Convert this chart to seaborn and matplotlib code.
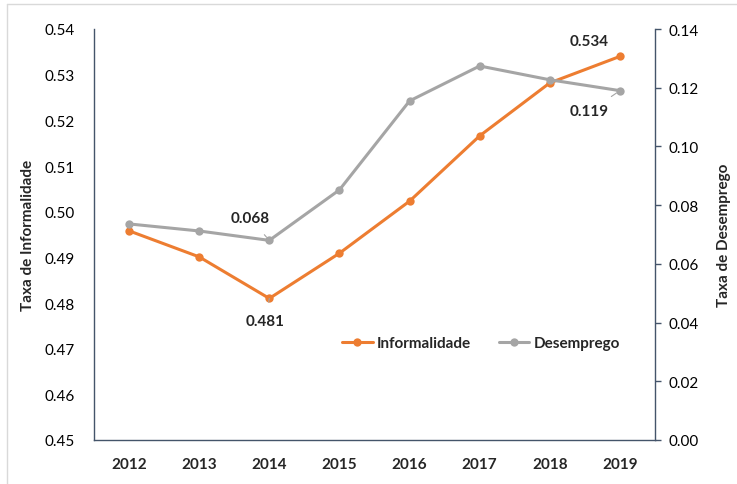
import pandas as pd
import matplotlib
matplotlib.use("Agg")
import matplotlib.pyplot as plt
from matplotlib.lines import Line2D
import seaborn as sns

# Dados
anos = ["2012", "2013", "2014", "2015", "2016", "2017", "2018", "2019"]
informalidade = [0.4958, 0.4901, 0.481, 0.4909, 0.5023, 0.5166, 0.5282, 0.534]
desemprego = [0.0736, 0.0712, 0.068, 0.0852, 0.1155, 0.1274, 0.1227, 0.119]

laranja = "#ED7D31"
cinza = "#A5A5A5"
eixo_cor = "#44546A"

sns.set_style("white")
plt.rcParams["font.family"] = ["Lato", "DejaVu Sans"]

df = pd.DataFrame({"ano": anos, "informalidade": informalidade, "desemprego": desemprego})

fig = plt.figure(figsize=(7.37, 4.85), dpi=100)
ax = fig.add_axes([94 / 737, 1 - 441 / 485, 561 / 737, 411 / 485])
ax2 = ax.twinx()

sns.lineplot(data=df, x="ano", y="informalidade", ax=ax, color=laranja, marker="o",
             markersize=6, markeredgewidth=0, linewidth=2.2, label="Informalidade", legend=False)
sns.lineplot(data=df, x="ano", y="desemprego", ax=ax2, color=cinza, marker="o",
             markersize=6, markeredgewidth=0, linewidth=2.2, label="Desemprego", legend=False)

ax.set_xlim(-0.5, 7.5)
ax.set_ylim(0.45, 0.54)
ax.set_yticks([0.45 + 0.01 * i for i in range(10)])
ax.set_yticklabels([f"{0.45 + 0.01 * i:.2f}" for i in range(10)])
ax2.set_ylim(0, 0.14)
ax2.set_yticks([0.02 * i for i in range(8)])
ax2.set_yticklabels([f"{0.02 * i:.2f}" for i in range(8)])

for a in (ax, ax2):
    for s in a.spines.values():
        s.set_visible(False)
    a.grid(False)
ax.spines["left"].set_visible(True)
ax.spines["bottom"].set_visible(True)
ax2.spines["right"].set_visible(True)
for s in (ax.spines["left"], ax.spines["bottom"], ax2.spines["right"]):
    s.set_color(eixo_cor)
    s.set_linewidth(1.0)

ax.tick_params(axis="y", length=0, pad=14, labelsize=11, colors="black")
ax.tick_params(axis="x", length=0, pad=12, labelsize=11)
for t in ax.get_xticklabels():
    t.set_fontweight("bold")
ax2.tick_params(axis="y", length=4, width=1, color=eixo_cor, pad=6, labelsize=11, labelcolor="black")

ax.set_xlabel("")
ax.set_ylabel("Taxa de Informalidade", fontsize=11, fontweight="bold", labelpad=7)
ax2.set_ylabel("Taxa de Desemprego", fontsize=11, fontweight="bold", labelpad=13)

# Rótulos de dados
fs = 11
linha = dict(arrowstyle="-", color="#A5A5A5", lw=0.8, shrinkA=6, shrinkB=3)
ax2.annotate("0.068", xy=(2, desemprego[2]), xytext=(-14, 16), textcoords="offset points",
             ha="center", va="center", fontsize=fs, fontweight="bold", arrowprops=linha)
ax.annotate("0.481", xy=(2, informalidade[2]), xytext=(-3, -16), textcoords="offset points",
            ha="center", va="center", fontsize=fs, fontweight="bold", arrowprops=linha)
ax.annotate("0.534", xy=(7, informalidade[7]), xytext=(-22, 11), textcoords="offset points",
            ha="center", va="center", fontsize=fs, fontweight="bold")
ax2.annotate("0.119", xy=(7, desemprego[7]), xytext=(-22, -15), textcoords="offset points",
             ha="center", va="center", fontsize=fs, fontweight="bold", arrowprops=linha)

h1, l1 = ax.get_legend_handles_labels()
h2, l2 = ax2.get_legend_handles_labels()
leg = ax.legend(h1 + h2, l1 + l2, loc="center", bbox_to_anchor=(0.69, 0.236), ncol=2,
                frameon=False, handlelength=2.0, handletextpad=0.3, columnspacing=1.8,
                prop={"size": 11, "weight": "bold"})

# Moldura clara da figura
fig.add_artist(Line2D([7 / 737, 7 / 737], [0, 1 - 5 / 485], transform=fig.transFigure,
                      color="#D9D9D9", lw=1))
fig.add_artist(Line2D([7 / 737, 1], [1 - 5 / 485, 1 - 5 / 485], transform=fig.transFigure,
                      color="#D9D9D9", lw=1))

fig.savefig("out.png", dpi=100)
